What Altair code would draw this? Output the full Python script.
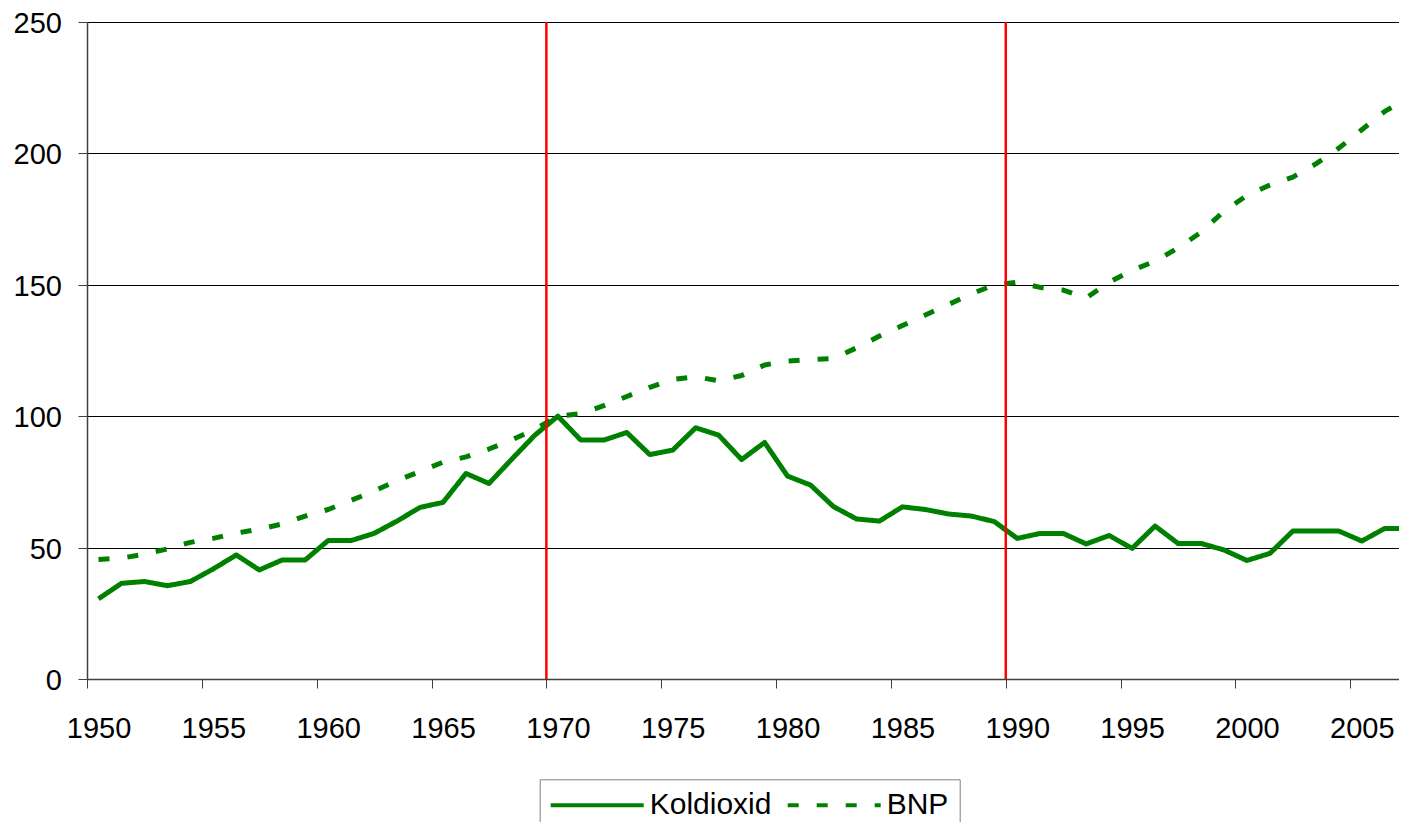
import altair as alt
import pandas as pd

years = list(range(1950, 2008))

koldioxid = [
    30.5, 36.4, 37.1, 35.5, 37.1, 41.9, 47.2, 41.5, 45.3, 45.3,
    52.7, 52.7, 55.4, 60.1, 65.3, 67.2, 78.2, 74.4, 83.7, 92.8,
    100.0, 90.9, 90.9, 93.8, 85.4, 87.1, 95.6, 92.8, 83.5, 90.0,
    77.2, 73.8, 65.6, 60.9, 60.1, 65.5, 64.5, 62.8, 62.0, 59.9,
    53.5, 55.4, 55.4, 51.4, 54.6, 49.7, 58.2, 51.6, 51.6, 49.1,
    45.1, 47.8, 56.3, 56.3, 56.3, 52.5, 57.3, 57.3,
]

bnp = [
    45.5, 46.0, 47.5, 49.5, 52.0, 53.5, 55.5, 57.0, 59.0, 62.0,
    64.5, 68.0, 71.5, 75.5, 79.0, 82.5, 84.5, 87.5, 91.0, 95.0,
    100.0, 101.0, 104.0, 107.5, 111.0, 114.0, 115.0, 113.5, 115.5, 119.5,
    121.0, 121.5, 122.0, 126.0, 130.5, 134.5, 138.5, 142.5, 146.5, 150.0,
    151.0, 149.0, 148.0, 145.0, 151.0, 155.5, 159.0, 164.0, 170.0, 178.0,
    184.0, 188.0, 191.0, 196.0, 202.0, 209.0, 216.0, 221.0,
]

series_names = ["Koldioxid", "BNP"]
marker_years = [1970, 1990]
x_ticks = list(range(1950, 2006, 5))
y_ticks = [0, 50, 100, 150, 200, 250]

rows = []
for name, vals in zip(series_names, [koldioxid, bnp]):
    for yr, v in zip(years, vals):
        # category centre: each year occupies [yr, yr+1) between tick marks
        rows.append({"pos": yr + 0.5, "value": v, "series": name})
df = pd.DataFrame(rows)
rules_df = pd.DataFrame({"pos": marker_years})

FONT = "Liberation Sans"
GREEN = "#008000"
AXIS_COL = "#404040"

x_scale = alt.Scale(domain=[1950, 2007.12], nice=False, zero=False)
y_scale = alt.Scale(domain=[0, 250], nice=False, zero=True)

lines = alt.Chart(df).mark_line(
    strokeWidth=5, clip=True, color=GREEN, strokeCap="butt", strokeJoin="round"
).encode(
    x=alt.X(
        "pos:Q",
        scale=x_scale,
        axis=alt.Axis(
            values=x_ticks, format="d", title=None, grid=False,
            labelOffset=11.5, tickSize=9, labelPadding=26,
            labelFlush=False, labelOverlap=False, labelBound=False,
            labelFontSize=29, labelFont=FONT, labelColor="#000000",
            domainColor=AXIS_COL, domainWidth=1.5, tickColor=AXIS_COL, tickWidth=1,
        ),
    ),
    y=alt.Y(
        "value:Q",
        scale=y_scale,
        axis=alt.Axis(
            values=y_ticks, title=None, grid=True, gridColor="#000000", gridWidth=1,
            tickSize=9, labelPadding=16.5, labelOffset=1.5,
            labelFontSize=29, labelFont=FONT, labelColor="#000000",
            domainColor=AXIS_COL, domainWidth=1.5, tickColor=AXIS_COL, tickWidth=1,
        ),
    ),
    strokeDash=alt.StrokeDash(
        "series:N",
        scale=alt.Scale(domain=series_names, range=[[1, 0], [11, 18]]),
        legend=alt.Legend(
            orient="none", legendX=452.7, legendY=757.3, direction="horizontal",
            title=None, symbolType="M-4,0H4", symbolSize=540.6,
            symbolStrokeWidth=4, symbolStrokeColor=GREEN, symbolOffset=31.5,
            labelFontSize=30, labelFont=FONT, labelColor="#000000",
            labelOffset=37.5, columnPadding=7, padding=11,
            strokeColor="#808080", fillColor="#ffffff",
        ),
    ),
)

rules = alt.Chart(rules_df).mark_rule(color="#FF0000", strokeWidth=2.5).encode(
    x=alt.X("pos:Q", scale=x_scale),
    y=alt.datum(0),
    y2=alt.datum(250),
)

chart = alt.layer(lines, rules).properties(
    width=1312,
    height=657,
    autosize=alt.AutoSizeParams(type="none"),
    padding={"left": 79, "top": 14, "right": 0, "bottom": 143},
    background="#ffffff",
).configure_view(stroke="transparent")

chart.save("out.html", embed_options={"renderer": "svg", "actions": False})
